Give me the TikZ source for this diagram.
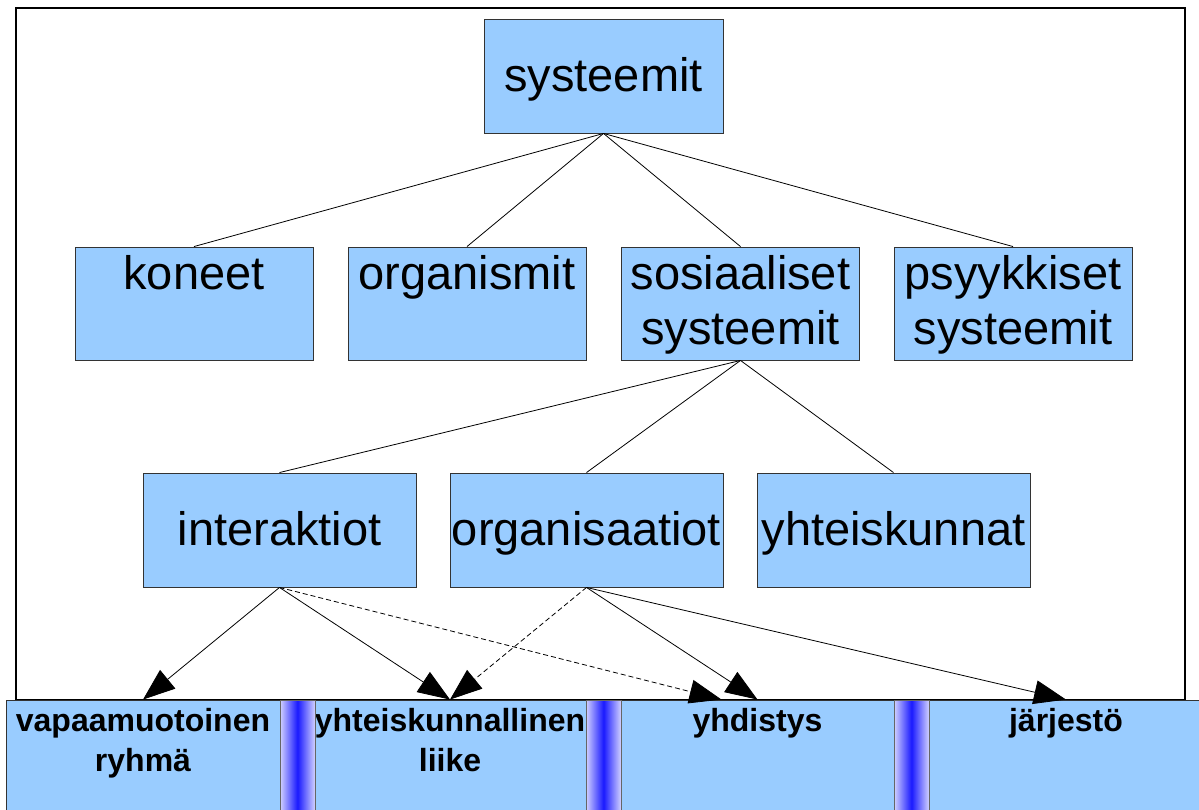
\documentclass[tikz,border=0pt]{standalone}
\usepackage{fontspec}
\setmainfont{Liberation Sans}
\usetikzlibrary{arrows.meta}
\definecolor{boxblue}{HTML}{99CCFF}
\newcommand\boxfont{\fontsize{47}{55}\selectfont}
\newcommand\barfont{\fontsize{32}{40}\selectfont\bfseries}

\begin{document}
\begin{tikzpicture}[x=1pt,y=-1pt,
  box/.style={draw=black!80, line width=0.9pt, fill=boxblue, inner sep=0pt,
    align=center, font=\boxfont, minimum width=238pt, text height=42pt, text depth=71pt},
  twobox/.style={box, text height=97pt, text depth=16pt},
  midbox/.style={box, text height=72pt, text depth=42pt},
  lowbox/.style={box, font=\barfont, text height=31pt, text depth=99pt},
  lowtwo/.style={lowbox, text height=71pt, text depth=59pt},
  bar/.style={draw=black!60, line width=0.9pt, left color=blue!18, right color=blue!18, middle color=blue!90},
  link/.style={line width=0.8pt},
  arr/.style={line width=0.8pt, -{Triangle[length=32pt,width=24pt]}},
  maybe/.style={arr, dash pattern=on 5pt off 3pt}]
\path[use as bounding box, clip] (0,0) rectangle (1199,809);
\draw[line width=1.6pt] (16,8) rectangle (1185,700);

 \node[midbox, minimum width=239pt] (sys) at (603.5,76) {systeemit};
 \node[box] (kon) at (194,303.5) {koneet};
 \node[box] (org) at (467,303.5) {organismit};
 \node[twobox] (sos) at (740.5,303.5) {sosiaaliset\\systeemit};
 \node[twobox] (psy) at (1013,303.5) {psyykkiset\\systeemit};
 \node[midbox, minimum width=273pt] (int) at (279.5,530) {interaktiot};
 \node[midbox, minimum width=273pt] (osa) at (586.5,530) {organisaatiot};
 \node[midbox, minimum width=273pt] (yhk) at (893.5,530) {yhteiskunnat};
 \node[lowtwo, minimum width=274pt] (vap) at (143,765) {vapaamuotoinen\\ryhmä};
 \node[lowtwo, minimum width=272pt] (yhl) at (450,765) {yhteiskunnallinen\\liike};
 \node[lowbox, minimum width=273pt] (yhd) at (757.5,765) {yhdistys};
 \node[lowbox, minimum width=274pt] (jar) at (1066,765) {järjestö};
\foreach \x in {280,586,894}
  \shadedraw[bar] (\x,700) rectangle +(35,130);

\draw[link] (sys.south)--(kon.north);
\draw[link] (sys.south)--(org.north);
\draw[link] (sys.south)--(sos.north);
\draw[link] (sys.south)--(psy.north);
\draw[link] (sos.south)--(int.north);
\draw[link] (sos.south)--(osa.north);
\draw[link] (sos.south)--(yhk.north);
\draw[arr] (int.south)--(vap.north);
\draw[arr] (int.south)--(yhl.north);
\draw[maybe] (int.south)--([xshift=-36pt]yhd.north);
\draw[maybe] (osa.south)--(yhl.north);
\draw[arr] (osa.south)--(yhd.north);
\draw[arr] (osa.south)--(jar.north);
\end{tikzpicture}
\end{document}
